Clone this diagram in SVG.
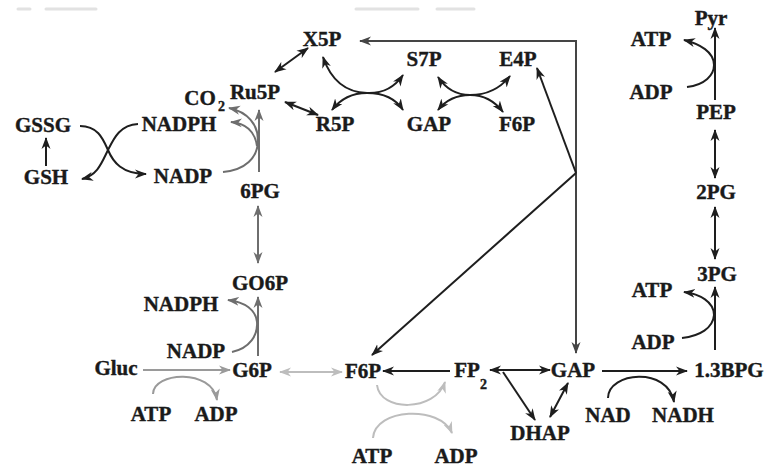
<svg xmlns="http://www.w3.org/2000/svg" width="768" height="469" viewBox="0 0 768 469">
  <style>
    text { font-family: "Liberation Serif", "Times New Roman", serif; font-weight: bold; font-size: 21px; fill: #1a1a1a; stroke: #1a1a1a; stroke-width: 0.4; text-anchor: middle; }
    text.sub { font-size: 14px; text-anchor: start; }
    .c { fill: none; stroke-width: 2; }
    .k { stroke: #1e1e1e; }
    .d { stroke: #454545; }
    .g { stroke: #6e6e6e; }
    .m { stroke: #9a9a9a; }
    .l { stroke: #bdbdbd; }
    .ek { marker-end: url(#ak); }
    .bk { marker-start: url(#ak); marker-end: url(#ak); }
    .ed { marker-end: url(#ad); }
    .bd { marker-start: url(#ad); marker-end: url(#ad); }
    .eg { marker-end: url(#ag); }
    .bg { marker-start: url(#ag); marker-end: url(#ag); }
    .em { marker-end: url(#am); }
    .el { marker-end: url(#al); }
    .bl { marker-start: url(#al); marker-end: url(#al); }
    .faint { stroke: #e2e2e2; stroke-width: 3; stroke-linecap: round; }
  </style>
  <defs>
    <marker id="ak" viewBox="0 0 12 10" markerWidth="12" markerHeight="10" refX="11" refY="5" markerUnits="userSpaceOnUse" orient="auto-start-reverse">
      <path d="M0,0.5 L12,5 L0,9.5 L3.5,5 z" fill="#1e1e1e"/>
    </marker>
    <marker id="ad" viewBox="0 0 12 10" markerWidth="12" markerHeight="10" refX="11" refY="5" markerUnits="userSpaceOnUse" orient="auto-start-reverse">
      <path d="M0,0.5 L12,5 L0,9.5 L3.5,5 z" fill="#454545"/>
    </marker>
    <marker id="ag" viewBox="0 0 12 10" markerWidth="12" markerHeight="10" refX="11" refY="5" markerUnits="userSpaceOnUse" orient="auto-start-reverse">
      <path d="M0,0.5 L12,5 L0,9.5 L3.5,5 z" fill="#6e6e6e"/>
    </marker>
    <marker id="am" viewBox="0 0 12 10" markerWidth="12" markerHeight="10" refX="11" refY="5" markerUnits="userSpaceOnUse" orient="auto-start-reverse">
      <path d="M0,0.5 L12,5 L0,9.5 L3.5,5 z" fill="#9a9a9a"/>
    </marker>
    <marker id="al" viewBox="0 0 12 10" markerWidth="12" markerHeight="10" refX="11" refY="5" markerUnits="userSpaceOnUse" orient="auto-start-reverse">
      <path d="M0,0.5 L12,5 L0,9.5 L3.5,5 z" fill="#bdbdbd"/>
    </marker>
  </defs>

  <rect width="768" height="469" fill="#ffffff"/>

  <!-- faint remnants along the top edge -->
  <g id="top-edge">
    <line class="faint" x1="18" y1="9" x2="30" y2="9"/>
    <line class="faint" x1="46" y1="9" x2="96" y2="9"/>
    <line class="faint" x1="356" y1="9" x2="418" y2="9"/>
    <line class="faint" x1="437" y1="9" x2="474" y2="9"/>
  </g>

  <g id="connectors">
    <!-- glutathione cycle -->
    <line class="c k ek" x1="46" y1="166" x2="46" y2="138"/>
    <path class="c k ek" d="M80,126 C98,126 103,139 108,150 C113,162 122,174 146,174"/>
    <path class="c k ek" d="M138,124 C120,125 114,138 108,150 C102,162 98,175 82,179"/>

    <!-- oxidative pentose phosphate branch -->
    <line class="c g eg" x1="258" y1="356" x2="258" y2="297"/>
    <path class="c g eg" d="M232,352 C250,348 258,335 257,322 C256,310 245,302 228,300"/>
    <line class="c g bg" x1="258" y1="206" x2="258" y2="263"/>
    <line class="c g eg" x1="259" y1="172" x2="259" y2="110"/>
    <path class="c g eg" d="M223,172 C245,170 258,158 258,140 C258,125 248,112 229,108"/>
    <path class="c g eg" d="M257,146 C255,131 245,123 231,122"/>

    <!-- non-oxidative branch -->
    <line class="c k bk" x1="275" y1="72" x2="308" y2="48"/>
    <line class="c k bk" x1="285" y1="102" x2="318" y2="115"/>
    <path class="c k bk" d="M323,57 Q335,92 367,93 Q390,94 403,75"/>
    <path class="c k bk" d="M332,110 Q345,93 367,93 Q392,93 403,110"/>
    <path class="c k bk" d="M438,77 Q450,95 470,95 Q495,95 510,76"/>
    <path class="c k bk" d="M438,110 Q450,95 470,95 Q490,95 503,112"/>

    <!-- return routes from the glycolytic trunk -->
    <polyline class="c d bd" points="360,41 576,41 576,353"/>
    <line class="c k ek" x1="576" y1="173" x2="537" y2="68"/>
    <line class="c k ek" x1="576" y1="173" x2="372" y2="355"/>

    <!-- upper glycolysis -->
    <line class="c m em" x1="143" y1="370" x2="230" y2="370"/>
    <path class="c m em" d="M153,394 C153,372 212,368 217,400"/>
    <line class="c l bl" x1="280" y1="372" x2="342" y2="372"/>
    <line class="c k ek" x1="450" y1="371" x2="383" y2="371"/>
    <path class="c l el" d="M377,385 C380,412 435,412 445,382"/>
    <path class="c l el" d="M373,438 C375,408 440,405 452,433"/>
    <line class="c k bk" x1="490" y1="370" x2="550" y2="370"/>
    <line class="c k ek" x1="503" y1="372" x2="535" y2="420"/>
    <line class="c k bk" x1="550" y1="417" x2="568" y2="383"/>

    <!-- lower glycolysis -->
    <line class="c k ek" x1="602" y1="371" x2="687" y2="371"/>
    <path class="c k ek" d="M608,398 C608,372 668,366 674,402"/>
    <line class="c k ek" x1="715" y1="350" x2="715" y2="287"/>
    <path class="c k ek" d="M682,338 C700,336 713,328 714,315 C714,302 700,294 684,292"/>
    <line class="c k bk" x1="715" y1="207" x2="715" y2="259"/>
    <line class="c k bk" x1="715" y1="130" x2="715" y2="178"/>
    <line class="c k ek" x1="715" y1="100" x2="715" y2="28"/>
    <path class="c k ek" d="M687,87 C705,85 714,75 714,65 C714,52 700,44 684,40"/>
  </g>

  <!-- metabolites and cofactors -->
  <g id="gssg"><text x="43" y="132">GSSG</text></g>
  <g id="gsh"><text x="46" y="184">GSH</text></g>
  <g id="nadph-1"><text x="179" y="131">NADPH</text></g>
  <g id="nadp-1"><text x="183" y="183">NADP</text></g>
  <g id="co2"><text x="200" y="105">CO</text><text class="sub" x="218" y="111">2</text></g>
  <g id="ru5p"><text x="255" y="99">Ru5P</text></g>
  <g id="x5p"><text x="322" y="46">X5P</text></g>
  <g id="r5p"><text x="335" y="131">R5P</text></g>
  <g id="s7p"><text x="424" y="66">S7P</text></g>
  <g id="gap-top"><text x="429" y="131">GAP</text></g>
  <g id="e4p"><text x="518" y="66">E4P</text></g>
  <g id="f6p-top"><text x="517" y="131">F6P</text></g>
  <g id="pg6"><text x="260" y="198">6PG</text></g>
  <g id="go6p"><text x="260" y="290">GO6P</text></g>
  <g id="nadph-2"><text x="181" y="311">NADPH</text></g>
  <g id="nadp-2"><text x="196" y="358">NADP</text></g>
  <g id="gluc"><text x="116" y="375">Gluc</text></g>
  <g id="g6p"><text x="252" y="377">G6P</text></g>
  <g id="atp-1"><text x="151" y="421">ATP</text></g>
  <g id="adp-1"><text x="216" y="421">ADP</text></g>
  <g id="f6p"><text x="363" y="378">F6P</text></g>
  <g id="atp-2"><text x="372" y="463">ATP</text></g>
  <g id="adp-2"><text x="456" y="463">ADP</text></g>
  <g id="fp2"><text x="467" y="377">FP</text><text class="sub" x="480" y="389">2</text></g>
  <g id="gap"><text x="573" y="377">GAP</text></g>
  <g id="dhap"><text x="540" y="440">DHAP</text></g>
  <g id="nad"><text x="608" y="422">NAD</text></g>
  <g id="nadh"><text x="683" y="422">NADH</text></g>
  <g id="bpg"><text x="729" y="377">1.3BPG</text></g>
  <g id="atp-3"><text x="652" y="297">ATP</text></g>
  <g id="adp-3"><text x="653" y="349">ADP</text></g>
  <g id="pg3"><text x="717" y="281">3PG</text></g>
  <g id="pg2"><text x="716" y="199">2PG</text></g>
  <g id="pep"><text x="716" y="119">PEP</text></g>
  <g id="atp-4"><text x="651" y="46">ATP</text></g>
  <g id="adp-4"><text x="651" y="99">ADP</text></g>
  <g id="pyr"><text x="711" y="25">Pyr</text></g>
</svg>
